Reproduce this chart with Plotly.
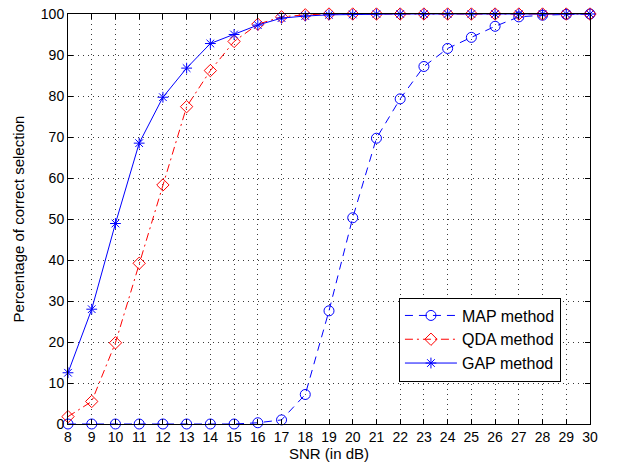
import plotly.graph_objects as go

snr = list(range(8, 31))
map_vals = [0, 0, 0, 0, 0, 0, 0, 0, 0.3, 1.0, 7.2, 27.6, 50.3, 69.7, 79.3, 87.2, 91.6, 94.3, 97.0, 99.3, 99.7, 99.9, 100]
qda_vals = [1.8, 5.5, 19.8, 39.2, 58.3, 77.4, 86.2, 93.3, 97.5, 99.3, 99.8, 100, 100, 100, 100, 100, 100, 100, 100, 100, 100, 100, 100]
gap_vals = [12.5, 28.0, 48.9, 68.5, 79.7, 86.8, 92.8, 95.0, 97.3, 99.0, 99.5, 99.8, 99.9, 100, 100, 100, 100, 100, 100, 100, 100, 100, 100]
x_ticks = list(range(8, 31))
y_ticks = list(range(0, 101, 10))

FONT = "Liberation Sans, Arial, Helvetica"

fig = go.Figure()
fig.add_trace(go.Scatter(x=snr, y=map_vals, name="MAP method", mode="lines+markers", cliponaxis=False,
                         line=dict(color="#0000ff", width=1, dash="8px,6px"),
                         marker=dict(symbol="circle-open", size=10, color="#0000ff", line=dict(width=1))))
fig.add_trace(go.Scatter(x=snr, y=qda_vals, name="QDA method", mode="lines+markers", cliponaxis=False,
                         line=dict(color="#ff0000", width=1, dash="8px,4px,2px,4px"),
                         marker=dict(symbol="diamond-open", size=9.5, color="#ff0000", line=dict(width=1))))
fig.add_trace(go.Scatter(x=snr, y=gap_vals, name="GAP method", mode="lines+markers", cliponaxis=False,
                         line=dict(color="#0000ff", width=1),
                         marker=dict(symbol="asterisk-open", size=9, color="#0000ff", line=dict(width=1, color="#0000ff"))))

axis_common = dict(showline=True, linecolor="black", linewidth=1, mirror="ticks",
                   ticks="inside", ticklen=5, tickcolor="black",
                   showgrid=True, gridcolor="#3a3a3a", griddash="1px,4px", gridwidth=1,
                   zeroline=False, ticklabeloverflow="allow",
                   tickfont=dict(family=FONT, size=14, color="black"))

fig.update_xaxes(range=[8, 30], tickvals=x_ticks, ticktext=[str(v) for v in x_ticks],
                 title=dict(text="SNR (in dB)", font=dict(family=FONT, size=15, color="black"), standoff=1),
                 **axis_common)
fig.update_yaxes(range=[0, 100], tickvals=y_ticks, ticktext=[str(v) for v in y_ticks],
                 title=dict(text="Percentage of correct selection", font=dict(family=FONT, size=15, color="black"), standoff=12),
                 **axis_common)

fig.update_layout(width=619, height=467, plot_bgcolor="white", paper_bgcolor="white",
                  margin=dict(l=68, r=29, t=14, b=43, autoexpand=False),
                  font=dict(family=FONT, color="black"),
                  legend=dict(x=0.634, y=0.206, xanchor="left", yanchor="middle",
                              bgcolor="white", bordercolor="black", borderwidth=1,
                              font=dict(size=16, color="black"), tracegroupgap=0, itemwidth=52))

fig.write_html("out.html", config={"displayModeBar": False},
               post_script="document.body.style.margin='0';document.body.style.overflow='hidden';")
